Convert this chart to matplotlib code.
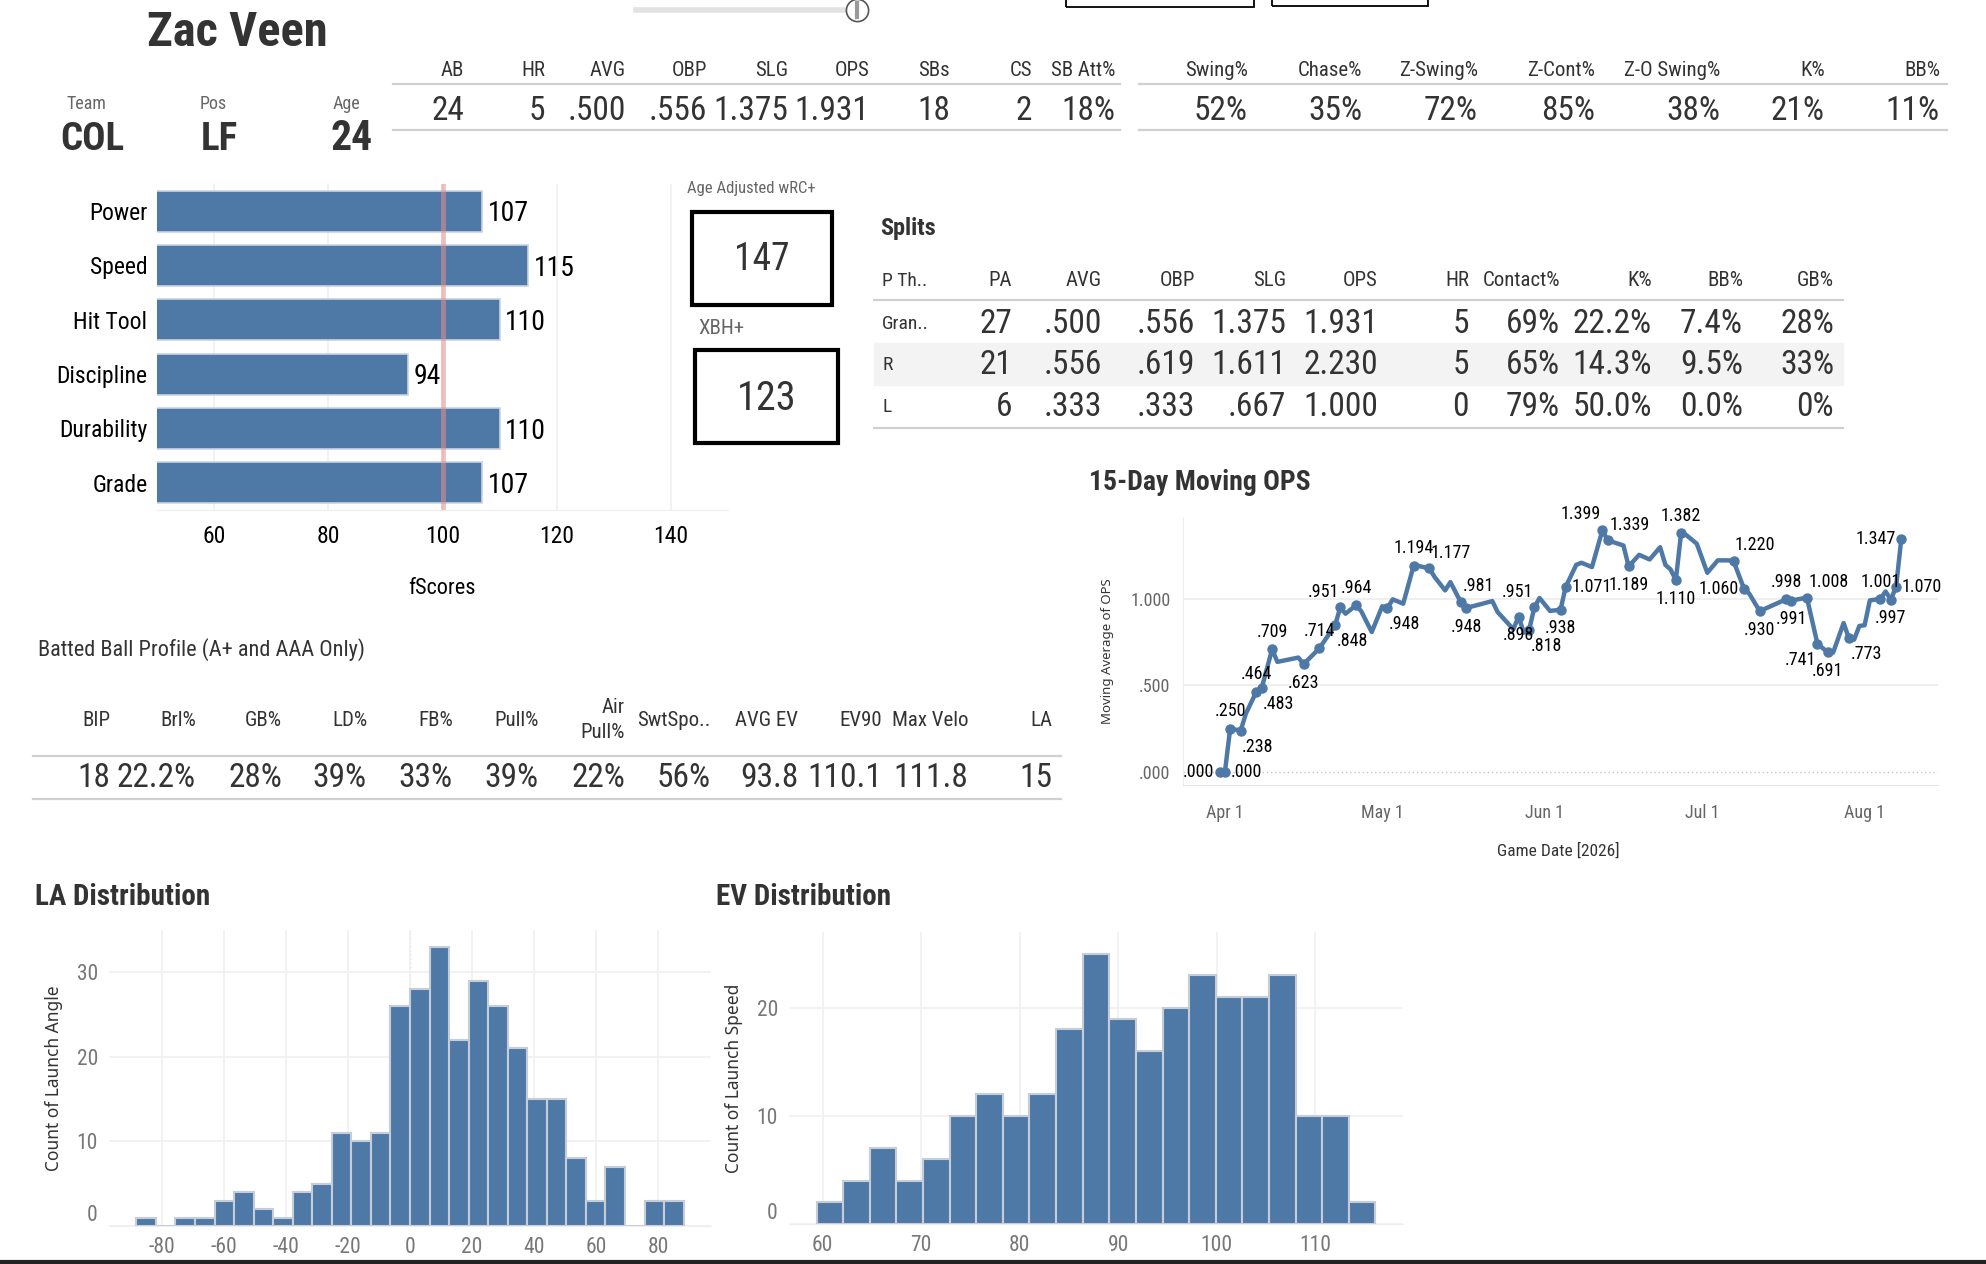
import numpy as np
import pandas as pd
import matplotlib
matplotlib.use('Agg')
import matplotlib.pyplot as plt
from matplotlib.lines import Line2D
from matplotlib.patches import Rectangle
from matplotlib.transforms import ScaledTranslation

NARROW = ['Roboto Condensed', 'DejaVu Sans Condensed', 'Liberation Sans Narrow', 'DejaVu Sans']
WIDE = ['Noto Sans', 'DejaVu Sans']
plt.rcParams['font.family'] = NARROW
plt.rcParams['axes.unicode_minus'] = False

BLUE = '#4e79a7'
DARK = '#333333'
GREY = '#666666'

# ---- data ----
player = 'Zac Veen'
team, pos, age = 'COL', 'LF', '24'

summary_cols = ['AB', 'HR', 'AVG', 'OBP', 'SLG', 'OPS', 'SBs', 'CS', 'SB Att%']
summary_vals = ['24', '5', '.500', '.556', '1.375', '1.931', '18', '2', '18%']

disc_cols = ['Swing%', 'Chase%', 'Z-Swing%', 'Z-Cont%', 'Z-O Swing%', 'K%', 'BB%']
disc_vals = ['52%', '35%', '72%', '85%', '38%', '21%', '11%']

fscore_labels = ['Power', 'Speed', 'Hit Tool', 'Discipline', 'Durability', 'Grade']
fscore_vals = [107, 115, 110, 94, 110, 107]

wrc_plus = 147
xbh_plus = 123

split_cols = ['P Th..', 'PA', 'AVG', 'OBP', 'SLG', 'OPS', 'HR', 'Contact%', 'K%', 'BB%', 'GB%']
split_grand = ['Gran..', '27', '.500', '.556', '1.375', '1.931', '5', '69%', '22.2%', '7.4%', '28%']
split_r = ['R', '21', '.556', '.619', '1.611', '2.230', '5', '65%', '14.3%', '9.5%', '33%']
split_l = ['L', '6', '.333', '.333', '.667', '1.000', '0', '79%', '50.0%', '0.0%', '0%']

bb_cols = ['BIP', 'Brl%', 'GB%', 'LD%', 'FB%', 'Pull%', 'Air\nPull%', 'SwtSpo..',
           'AVG EV', 'EV90', 'Max Velo', 'LA']
bb_vals = ['18', '22.2%', '28%', '39%', '33%', '39%', '22%', '56%', '93.8', '110.1', '111.8', '15']

ops_dates = ['2026-03-31', '2026-04-01', '2026-04-02', '2026-04-04', '2026-04-05', '2026-04-07',
             '2026-04-08', '2026-04-10', '2026-04-11', '2026-04-15', '2026-04-16', '2026-04-19',
             '2026-04-22', '2026-04-23', '2026-04-24', '2026-04-26', '2026-04-27', '2026-04-29',
             '2026-05-01', '2026-05-02', '2026-05-03', '2026-05-05', '2026-05-07', '2026-05-08',
             '2026-05-10', '2026-05-11', '2026-05-13', '2026-05-14', '2026-05-16', '2026-05-17',
             '2026-05-22', '2026-05-23', '2026-05-26', '2026-05-27', '2026-05-28', '2026-05-29',
             '2026-05-30', '2026-05-31', '2026-06-02', '2026-06-04', '2026-06-05', '2026-06-07',
             '2026-06-08', '2026-06-10', '2026-06-12', '2026-06-13', '2026-06-14', '2026-06-16',
             '2026-06-17', '2026-06-19', '2026-06-21', '2026-06-23', '2026-06-24', '2026-06-25',
             '2026-06-26', '2026-06-27', '2026-06-28', '2026-06-30', '2026-07-02', '2026-07-04',
             '2026-07-06', '2026-07-07', '2026-07-09', '2026-07-10', '2026-07-12', '2026-07-17',
             '2026-07-18', '2026-07-21', '2026-07-23', '2026-07-25', '2026-07-26', '2026-07-28',
             '2026-07-29', '2026-07-30', '2026-07-31', '2026-08-01', '2026-08-02', '2026-08-04',
             '2026-08-05', '2026-08-06', '2026-08-07', '2026-08-08']
ops_vals = [0.000, 0.000, 0.250, 0.238, 0.337, 0.464,
            0.483, 0.709, 0.636, 0.661, 0.623, 0.714,
            0.848, 0.951, 0.915, 0.964, 0.929, 0.809,
            0.958, 0.948, 0.998, 0.973, 1.194, 1.191,
            1.177, 1.127, 1.050, 1.098, 0.981, 0.948,
            0.988, 0.925, 0.825, 0.898, 0.805, 0.818,
            0.951, 1.006, 0.931, 0.938, 1.071, 1.198,
            1.210, 1.185, 1.399, 1.339, 1.330, 1.310,
            1.189, 1.256, 1.229, 1.300, 1.198, 1.171,
            1.110, 1.382, 1.370, 1.320, 1.152, 1.224,
            1.224, 1.220, 1.060, 1.031, 0.930, 0.998,
            0.991, 1.008, 0.741, 0.691, 0.690, 0.861,
            0.773, 0.765, 0.844, 0.848, 0.992, 1.001,
            1.044, 0.997, 1.070, 1.347]
# labelled points and where Tableau put each label
ops_labelled = {
    '2026-03-31': 'l', '2026-04-01': 'r', '2026-04-02': 'a', '2026-04-04': 'br',
    '2026-04-07': 'a', '2026-04-08': 'br', '2026-04-10': 'a', '2026-04-16': 'b',
    '2026-04-19': 'a', '2026-04-22': 'br', '2026-04-23': 'al', '2026-04-26': 'a',
    '2026-05-02': 'br', '2026-05-07': 'a', '2026-05-10': 'ar', '2026-05-16': 'ar',
    '2026-05-17': 'b', '2026-05-27': 'b', '2026-05-29': 'br', '2026-05-30': 'al',
    '2026-06-04': 'b', '2026-06-05': 'r', '2026-06-12': 'al', '2026-06-13': 'ar',
    '2026-06-17': 'b', '2026-06-26': 'b', '2026-06-27': 'a', '2026-07-07': 'ar',
    '2026-07-09': 'l', '2026-07-12': 'b', '2026-07-17': 'a', '2026-07-18': 'b',
    '2026-07-21': 'ar', '2026-07-23': 'bl', '2026-07-25': 'b', '2026-07-29': 'br',
    '2026-08-04': 'a', '2026-08-06': 'b', '2026-08-07': 'r', '2026-08-08': 'l',
}

la_edges = [-88.2, -81.9, -75.6, -69.3, -63.0, -56.7, -50.4, -44.1, -37.8, -31.5,
            -25.2, -18.9, -12.6, -6.3, 0.0, 6.3, 12.6, 18.9, 25.2, 31.5,
            37.8, 44.1, 50.4, 56.7, 63.0, 69.3, 75.6, 81.9, 88.2]
la_counts = [1, 0, 1, 1, 3, 4, 2, 1, 4, 5, 11, 10, 11, 26, 28, 33, 22, 29, 26, 21,
             15, 15, 8, 3, 7, 0, 3, 3]

ev_edges = [59.4, 62.1, 64.8, 67.5, 70.2, 72.9, 75.6, 78.3, 81.0, 83.7, 86.4,
            89.1, 91.8, 94.5, 97.2, 99.9, 102.6, 105.3, 108.0, 110.7, 113.4, 116.1]
ev_counts = [2, 4, 7, 4, 6, 10, 12, 10, 12, 18, 25, 19, 16, 20, 23, 21, 21, 23, 10, 10, 2]

# ---- figure in pixel layout ----
W, H = 1986, 1264
fig = plt.figure(figsize=(W / 100, H / 100), dpi=100)
fig.patch.set_facecolor('white')

fit_groups = {}


def fx(x):
    return x / W


def fy(y):
    return 1 - y / H


def put(x, y, s, size, group=None, avail=None, **kw):
    # avail = widest the text may be (px); a group shares one shrunk size
    kw.setdefault('color', DARK)
    t = fig.text(fx(x), fy(y), s, fontsize=size, **kw)
    if group:
        fit_groups.setdefault(group, []).append((t, avail))
    return t


def shrink_groups():
    r = fig.canvas.get_renderer()
    for items in fit_groups.values():
        scale = 1.0
        for t, avail in items:
            w = t.get_window_extent(r).width
            if avail and w > avail:
                scale = min(scale, avail / w)
        for t, _ in items:
            t.set_fontsize(t.get_fontsize() * scale)


def hline(x0, x1, y, color='#d0d0d0', lw=1.6):
    fig.add_artist(Line2D([fx(x0), fx(x1)], [fy(y), fy(y)], color=color, lw=lw))


def frame(l, t, r, b, lw=3.0, color='black'):
    fig.add_artist(Rectangle((fx(l), fy(b)), (r - l) / W, (b - t) / H, fill=False,
                             lw=lw, ec=color, transform=fig.transFigure))


def px_axes(l, t, r, b):
    return fig.add_axes([fx(l), fy(b), (r - l) / W, (b - t) / H])


def col_space(rights, first=120, gap=6):
    return [first] + [rights[i] - rights[i - 1] - gap for i in range(1, len(rights))]


# top controls (slider + cut-off dropdowns)
fig.add_artist(Line2D([fx(636), fx(850)], [fy(10), fy(10)], color='#e2e2e2', lw=4))
fig.add_artist(Line2D([fx(857)], [fy(10)], marker='o', ms=16, mfc='white', mec='#555', mew=1.2))
fig.add_artist(Line2D([fx(857), fx(857)], [fy(3), fy(17)], color='#999', lw=3))
frame(1066, -20, 1254, 7, lw=1.3)
frame(1272, -20, 1428, 6, lw=1.3)

# player header
put(237, 33, player, 35, group='name', avail=185, weight='bold', ha='center', va='center')
for xc, lab, val, sz in [(86, 'Team', team, 28), (213, 'Pos', pos, 28), (346, 'Age', age, 30)]:
    put(xc, 104, lab, 13, color=GREY, ha='center', va='center')
    put(xc + 6, 139, val, sz, weight='bold', ha='center', va='center')

# summary stat strip
sum_right = [464, 545, 626, 707, 788, 869, 950, 1032, 1115]
for col, val, xr, av in zip(summary_cols, summary_vals, sum_right, col_space(sum_right)):
    put(xr, 70, col, 15, group='hdr', avail=av, ha='right', va='center')
    put(xr, 111, val, 24, group='val', avail=av, ha='right', va='center')
hline(393, 1120, 84)
hline(393, 1120, 130)

disc_right = [1248, 1362, 1478, 1595, 1720, 1825, 1940]
for col, val, xr, av in zip(disc_cols, disc_vals, disc_right, col_space(disc_right)):
    put(xr, 70, col, 15, group='hdr', avail=av, ha='right', va='center')
    put(xr, 111, val, 24, group='val', avail=av, ha='right', va='center')
hline(1139, 1947, 84)
hline(1139, 1947, 130)

# fScores bars
ax = px_axes(157, 184, 728, 510)
ypos = np.arange(len(fscore_labels))
ax.barh(ypos, fscore_vals, height=0.75, color=BLUE, edgecolor='#c9d3df', lw=1.2, zorder=2)
for y, v in zip(ypos, fscore_vals):
    ax.text(v + 1.0, y + 0.05, str(v), ha='left', va='center', fontsize=20, color='black')
ax.axvline(100, color='#e88f8f', lw=3.5, alpha=0.55, zorder=3)
ax.set_xlim(50, 150)
ax.set_ylim(len(fscore_labels) - 0.5, -0.5)
ax.set_yticks(ypos)
ax.set_yticklabels(fscore_labels, fontsize=17, color='black')
ax.set_xticks([60, 80, 100, 120, 140])
ax.tick_params(axis='x', labelsize=17, length=0, pad=11, labelcolor='black')
ax.tick_params(axis='y', length=0, pad=7)
ax.grid(axis='x', color='#f0f0f0', lw=1.2, zorder=0)
for s in ['top', 'right', 'left']:
    ax.spines[s].set_visible(False)
ax.spines['bottom'].set_color('#eeeeee')
put(442, 589, 'fScores', 16, ha='center', va='center', color='black')

# wRC+ / XBH+ boxes
put(751, 189, 'Age Adjusted wRC+', 12, color=GREY, ha='center', va='center')
frame(692, 212, 832, 305)
put(762, 260, str(wrc_plus), 27, ha='center', va='center')
put(698, 329, 'XBH+', 15, color=GREY, ha='left', va='center')
frame(695, 350, 838, 443)
put(767, 398, str(xbh_plus), 29, ha='center', va='center')

# splits table
put(880, 228, 'Splits', 17.5, weight='bold', ha='left', va='center')
split_right = [882, 1012, 1102, 1195, 1286, 1378, 1469, 1560, 1652, 1743, 1834]
split_av = col_space(split_right)
fig.add_artist(Rectangle((fx(874), fy(385)), (1843 - 874) / W, 42 / H,
                         color='#f3f3f3', transform=fig.transFigure, zorder=0))
for j, (col, xr, av) in enumerate(zip(split_cols, split_right, split_av)):
    if j == 0:
        put(xr, 281, col, 14, ha='left', va='center')
    else:
        put(xr, 281, col, 15, group='hdr', avail=av, ha='right', va='center')
    for row, yc in zip([split_grand, split_r, split_l], [324, 365, 407]):
        if j == 0:
            put(xr, yc, row[j], 14, ha='left', va='center')
        else:
            put(xr, yc, row[j], 24, group='val', avail=av, ha='right', va='center')
hline(874, 1843, 300)
hline(874, 1843, 428)

# batted ball profile
put(38, 650, 'Batted Ball Profile (A+ and AAA Only)', 16, ha='left', va='center')
bb_right = [110, 196, 282, 367, 453, 539, 625, 711, 798, 882, 968, 1052]
for col, val, xr, av in zip(bb_cols, bb_vals, bb_right, col_space(bb_right)):
    put(xr, 720, col, 15, group='hdr', avail=av, ha='right', va='center', linespacing=1.45)
    put(xr, 778, val, 24, group='val', avail=av, ha='right', va='center')
hline(33, 1061, 756)
hline(33, 1061, 799)

# 15-day moving OPS
put(1089, 483, '15-Day Moving OPS', 20, weight='bold', ha='left', va='center')
ax = px_axes(1183, 517, 1938, 785)
dates = pd.to_datetime(ops_dates)
vals = np.array(ops_vals)
ax.plot(dates, vals, color=BLUE, lw=3.2, solid_joinstyle='round', zorder=3)
mask = np.array([d in ops_labelled for d in ops_dates])
ax.plot(dates[mask], vals[mask], 'o', color=BLUE, ms=6.5, zorder=4)
place = {'a': (0, 6, 'center', 'bottom'), 'b': (0, -7, 'center', 'top'),
         'l': (-4, 0, 'right', 'center'), 'r': (4, 0, 'left', 'center'),
         'ar': (1, 5, 'left', 'bottom'), 'al': (-1, 5, 'right', 'bottom'),
         'br': (1, -5, 'left', 'top'), 'bl': (-1, -5, 'right', 'top')}
for d, v in zip(ops_dates, ops_vals):
    if d not in ops_labelled:
        continue
    dx, dy, ha, va = place[ops_labelled[d]]
    lab = f'{v:.3f}'
    if lab.startswith('0'):
        lab = lab[1:]
    ax.annotate(lab, (pd.Timestamp(d), v), xytext=(dx, dy), textcoords='offset points',
                ha=ha, va=va, fontsize=13, color='black', zorder=5)
ax.set_xlim(pd.Timestamp('2026-03-24'), pd.Timestamp('2026-08-15'))
ax.set_ylim(-0.077, 1.475)
for yv in [0.5, 1.0]:
    ax.axhline(yv, color='#ececec', lw=1.2, zorder=0)
ax.axhline(0, color='#c4c4c4', lw=1.0, ls=(0, (1, 2)), zorder=0)
ax.set_yticks([0, 0.5, 1.0])
ax.set_yticklabels(['.000', '.500', '1.000'])
mticks = pd.to_datetime(['2026-04-01', '2026-05-01', '2026-06-01', '2026-07-01', '2026-08-01'])
ax.set_xticks(mticks)
ax.set_xticklabels([t.strftime('%b ') + str(t.day) for t in mticks])
ax.tick_params(axis='both', labelsize=13, labelcolor=GREY, length=0)
ax.tick_params(axis='x', pad=14)
ax.tick_params(axis='y', pad=9)
for s in ['top', 'right']:
    ax.spines[s].set_visible(False)
ax.spines['left'].set_color('#eeeeee')
ax.spines['bottom'].set_color('#e6e6e6')
put(1108, 651, 'Moving Average of OPS', 9.5, family=WIDE, rotation=90,
    ha='center', va='center')
put(1558, 851, 'Game Date [2026]', 12.5, ha='center', va='center')

# launch angle and exit velo histograms
for (l, t, r, b), edges, counts, xlim, ylim, xt, yt, title, tx, ylab, lx in [
        ((109, 930, 711, 1226), la_edges, la_counts, (-97, 97), (0, 35),
         range(-80, 81, 20), [0, 10, 20, 30], 'LA Distribution', 35,
         'Count of Launch Angle', 54),
        ((789, 932, 1403, 1224), ev_edges, ev_counts, (56.6, 118.9), (0, 27),
         range(60, 111, 10), [0, 10, 20], 'EV Distribution', 716,
         'Count of Launch Speed', 734)]:
    put(tx, 897, title, 21, weight='bold', ha='left', va='center')
    ax = px_axes(l, t, r, b)
    ax.bar(edges[:-1], counts, width=np.diff(edges), align='edge', color=BLUE,
           edgecolor='#c5cdd8', lw=1.5, zorder=2)
    ax.set_xlim(*xlim)
    ax.set_ylim(*ylim)
    ax.set_xticks(list(xt))
    ax.set_yticks(yt)
    ax.tick_params(axis='both', labelsize=15.5, labelcolor='#777777', length=0)
    ax.tick_params(axis='x', pad=8)
    ax.tick_params(axis='y', pad=8)
    # Tableau lifts the bottom "0" label off the baseline
    zero_lab = ax.get_yticklabels()[0]
    zero_lab.set_transform(zero_lab.get_transform()
                           + ScaledTranslation(0, 0.13, fig.dpi_scale_trans))
    ax.grid(color='#f0f0f0', lw=1.2, zorder=0)
    for s in ['top', 'right', 'left']:
        ax.spines[s].set_visible(False)
    ax.spines['bottom'].set_color('#eeeeee')
    if title.startswith('LA'):
        ax.axvline(0, color='#c8c8c8', lw=1.0, ls=(0, (1, 2)), zorder=1)
    put(lx, (t + b) / 2, ylab, 12.5, family=WIDE, rotation=90,
        ha='center', va='center')

# screenshot edge at the bottom
hline(0, W, 1262, color='#222222', lw=3)

shrink_groups()
fig.savefig('out.png', dpi=100, facecolor='white')
